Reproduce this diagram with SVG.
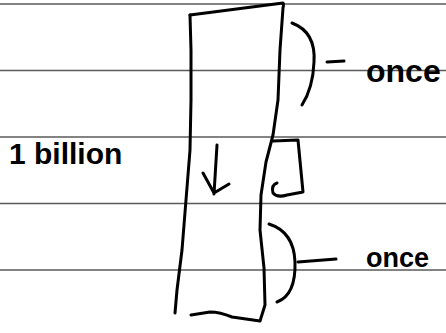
<svg xmlns="http://www.w3.org/2000/svg" width="446" height="333" viewBox="0 0 446 333">
<style>
.rule{stroke:#5a5a5a;stroke-width:1.5;fill:none}
.ink{stroke:#000;stroke-width:3;fill:none;stroke-linecap:round;stroke-linejoin:round}
.hand{font-family:"Liberation Sans","DejaVu Sans",sans-serif;font-weight:bold;fill:#000}
</style>
<rect width="446" height="333" fill="#fff"/>
<g id="rules">
<line class="rule" x1="0" y1="4" x2="446" y2="4"/>
<line class="rule" x1="0" y1="70.5" x2="446" y2="70.5"/>
<line class="rule" x1="0" y1="137" x2="446" y2="137"/>
<line class="rule" x1="0" y1="203.5" x2="446" y2="203.5"/>
<line class="rule" x1="0" y1="270" x2="446" y2="270"/>
</g>
<g id="column">
<path class="ink" d="M190,15 L283,3 Q284,4 283,8 L280,50 L278,100 L273,135 L266,162 L261,195 L260,230 L264,268 L265,305 L260,321 L232,317 Q220,312 210,312 L191,315"/>
<path class="ink" d="M190,15 L191,50 L191,100 L190,150 L186,200 L182,250 L177,290 L175,313"/>
</g>
<g id="arrow">
<path class="ink" d="M217,145 L214,194 M203,173 L214,193 L229,184"/>
</g>
<g id="loop">
<path class="ink" d="M273,141 L298,140 L303,192 L287,195 Q277,198 273,193 Q271,185 277,183"/>
</g>
<g id="brace-top">
<path class="ink" d="M292,23 Q316,32 314,62 Q313,88 302,105"/>
<path class="ink" d="M327,62 L344,61"/>
</g>
<g id="brace-bottom">
<path class="ink" d="M269,224 Q294,232 295,262 Q296,295 277,302"/>
<path class="ink" d="M298,262 L336,259"/>
</g>
<text class="hand" x="9" y="164" font-size="30">1 billion</text>
<text class="hand" x="366" y="82" font-size="32">once</text>
<text class="hand" x="366" y="267" font-size="27">once</text>
</svg>
